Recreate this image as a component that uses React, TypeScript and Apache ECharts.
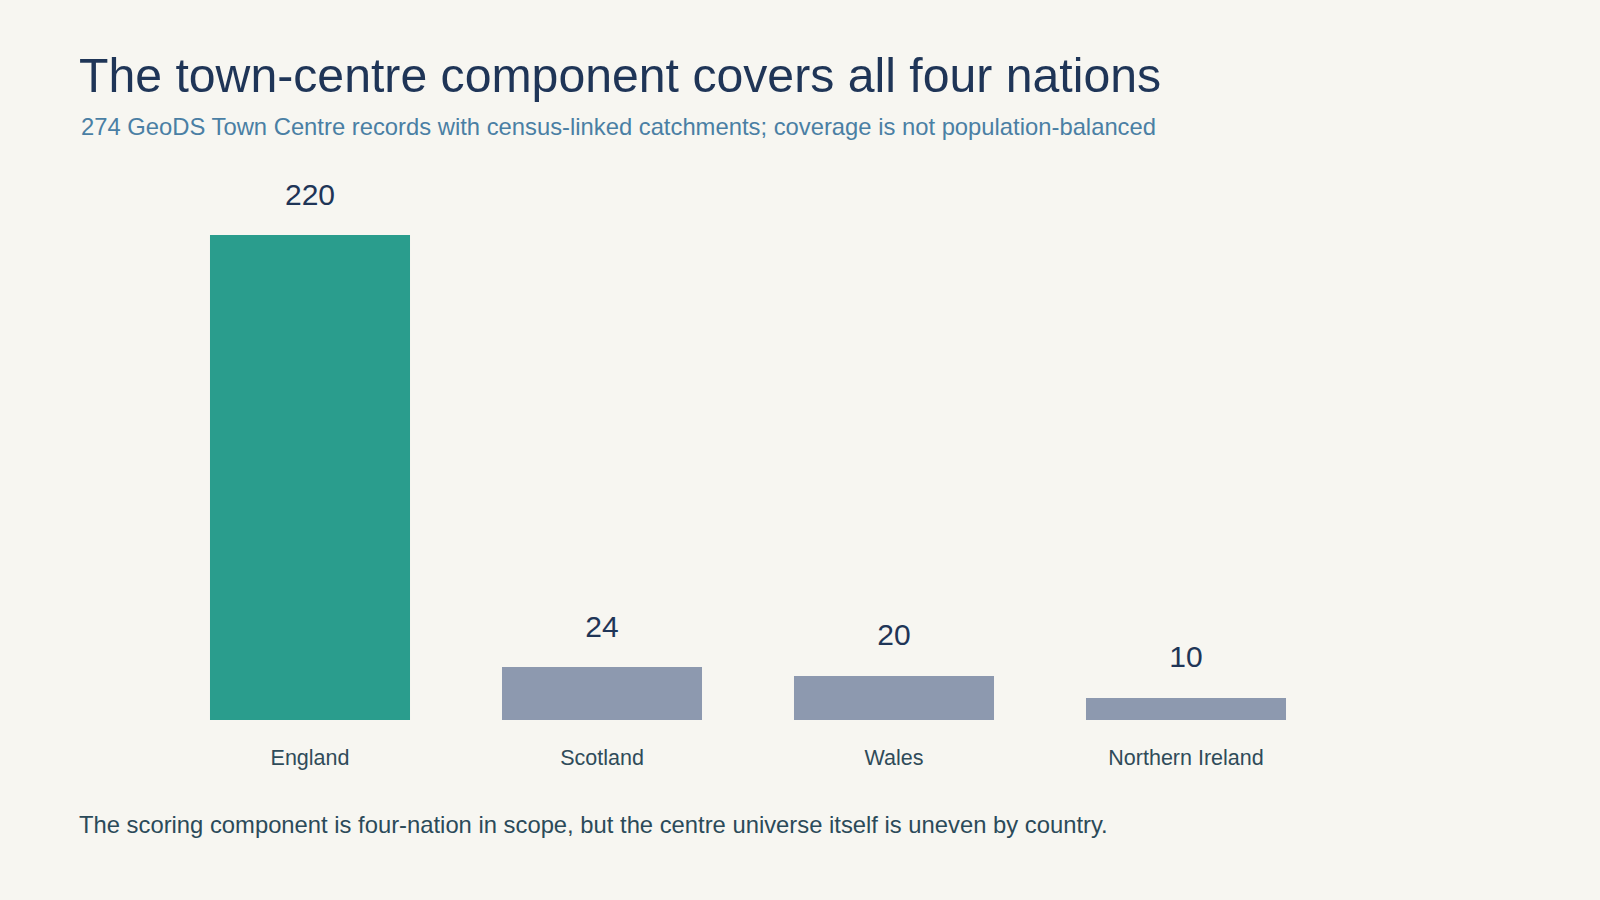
import * as echarts from 'echarts';
import { useEffect, useRef } from 'react';

const nations = ['England', 'Scotland', 'Wales', 'Northern Ireland'];
const centreCounts = [220, 24, 20, 10];
const highlightNation = 'England';

const TITLE = 'The town-centre component covers all four nations';
const SUBTITLE = '274 GeoDS Town Centre records with census-linked catchments; coverage is not population-balanced';
const FOOTNOTE = 'The scoring component is four-nation in scope, but the centre universe itself is uneven by country.';

const FONT = 'Arial, "Liberation Sans", Helvetica, sans-serif';

const App = () => {
  const chartRef = useRef<HTMLDivElement>(null);

  useEffect(() => {
    if (!chartRef.current) return;
    document.body.style.margin = '0';

    const chart = echarts.init(chartRef.current, null, { renderer: 'svg' });

    const option = {
      animation: false,
      backgroundColor: '#f7f6f1',
      textStyle: { fontFamily: FONT },
      title: [
        {
          left: 79,
          padding: 0,
          text: TITLE,
          textStyle: { color: '#1f3557', fontFamily: FONT, fontSize: 48.2, fontWeight: 'normal' },
          top: 51,
        },
        {
          left: 81,
          padding: 0,
          text: SUBTITLE,
          textStyle: { color: '#4a7fa4', fontFamily: FONT, fontSize: 23.8, fontWeight: 'normal' },
          top: 114,
        },
        {
          left: 79,
          padding: 0,
          text: FOOTNOTE,
          textStyle: { color: '#2b4a59', fontFamily: FONT, fontSize: 23.8, fontWeight: 'normal' },
          top: 812,
        },
      ],
      grid: {
        bottom: 180,
        left: 164,
        right: 268,
        top: 235,
      },
      xAxis: {
        axisLabel: {
          color: '#2f4b59',
          fontFamily: FONT,
          fontSize: 21.5,
          margin: 27,
        },
        axisLine: { show: false },
        axisTick: { show: false },
        data: nations,
        type: 'category',
      },
      yAxis: {
        max: 220,
        min: 0,
        show: false,
        splitLine: { show: false },
        type: 'value',
      },
      series: [
        {
          barWidth: '68.5%',
          data: centreCounts.map((v, i) => ({
            itemStyle: { color: nations[i] === highlightNation ? '#2a9d8d' : '#8d99af' },
            value: v,
          })),
          label: {
            color: '#1f3557',
            distance: 26,
            fontFamily: FONT,
            fontSize: 30,
            position: 'top',
            show: true,
          },
          type: 'bar',
        },
      ],
    };

    chart.setOption(option);

    const handleResize = () => {
      chart.resize();
    };
    window.addEventListener('resize', handleResize);

    return () => {
      window.removeEventListener('resize', handleResize);
      chart.dispose();
    };
  }, []);

  return <div ref={chartRef} style={{ height: 900, left: 0, position: 'absolute', top: 0, width: 1600 }} />;
};

export default App;
